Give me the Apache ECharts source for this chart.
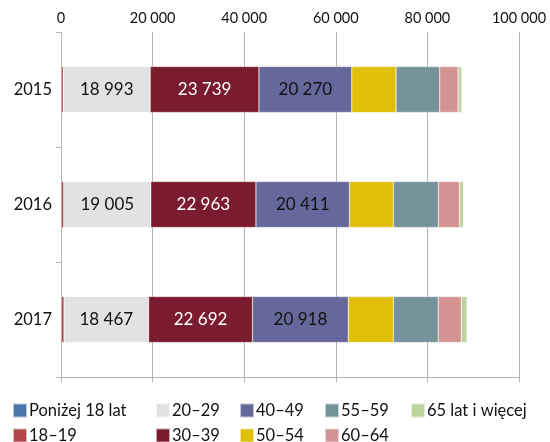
<!DOCTYPE html>
<html>
<head>
<meta charset="utf-8">
<script src="https://cdn.jsdelivr.net/npm/echarts@6/dist/echarts.min.js"></script>
<style>html,body{margin:0;padding:0;background:#fff}#c{width:550px;height:442px}</style>
</head>
<body>
<div id="c"></div>
<script>
const years = ['2015', '2016', '2017'];
const seriesNames = ['Poniżej 18 lat', '18–19', '20–29', '30–39', '40–49', '50–54', '55–59', '60–64', '65 lat i więcej'];
const under18 = [40, 50, 60];
const age18_19 = [450, 550, 600];
const age20_29 = [18993, 19005, 18467];
const age30_39 = [23739, 22963, 22692];
const age40_49 = [20270, 20411, 20918];
const age50_54 = [9670, 9600, 9850];
const age55_59 = [9540, 9830, 9780];
const age60_64 = [4000, 4590, 5030];
const age65plus = [800, 870, 1240];
const axisTicks = [0, 20000, 40000, 60000, 80000, 100000];

const values = [under18, age18_19, age20_29, age30_39, age40_49, age50_54, age55_59, age60_64, age65plus];
const colors = ['#4A76AA', '#B0474A', '#E2E2E2', '#7A1C2D', '#66679B', '#E0BF08', '#76929B', '#D49393', '#BDD39D'];
const labelled = {2: '#111', 3: '#fff', 4: '#111'};
const fmt = v => String(v).replace(/\B(?=(\d{3})+(?!\d))/g, ' ');
const FONT = 'Lato';

const chart = echarts.init(document.getElementById('c'));
const series = seriesNames.map((name, i) => ({
  name: name,
  type: 'bar',
  stack: 'total',
  barWidth: '40%',
  xAxisIndex: 0,
  data: values[i],
  itemStyle: {color: colors[i], borderColor: 'rgba(255,255,255,0.6)', borderWidth: 0.5},
  label: labelled[i] ? {
    show: true, position: 'inside', color: labelled[i], fontFamily: FONT, fontSize: 17,
    formatter: p => fmt(p.value)
  } : {show: false},
  emphasis: {disabled: true}
}));

// legend slots: column x, row (0 top, 1 bottom) — Excel fills column-wise
const colX = [12, 155, 239, 324, 410];
const rowY = [402, 427];
const legends = seriesNames.map((name, i) => ({
  left: colX[Math.floor(i / 2)], top: rowY[i % 2], orient: 'horizontal', padding: 0,
  itemWidth: 14, itemHeight: 14, icon: 'rect', data: [name],
  textStyle: {fontFamily: FONT, fontSize: 16.5, color: '#111', padding: [0, 0, 0, -3]},
  selectedMode: false
}));

chart.setOption({
  animation: false,
  color: colors,
  grid: {left: 61, right: 31, top: 32, bottom: 65},
  legend: legends,
  xAxis: [{
    type: 'value', position: 'top', min: axisTicks[0], max: axisTicks[axisTicks.length - 1],
    interval: axisTicks[1] - axisTicks[0],
    axisLine: {show: false}, axisTick: {show: false},
    axisLabel: {margin: 6, fontFamily: FONT, fontSize: 14.5, color: '#111', formatter: v => fmt(v)},
    splitLine: {show: true, lineStyle: {color: '#b3b3b3', width: 1}}
  }, {
    type: 'value', position: 'bottom', min: axisTicks[0], max: axisTicks[axisTicks.length - 1],
    interval: axisTicks[1] - axisTicks[0],
    axisLine: {show: true, lineStyle: {color: '#b3b3b3', width: 1}},
    axisTick: {show: true, length: 5, lineStyle: {color: '#b3b3b3'}},
    axisLabel: {show: false}, splitLine: {show: false}
  }],
  yAxis: {
    type: 'category', data: years, inverse: true,
    axisLine: {show: true, lineStyle: {color: '#b3b3b3', width: 1}},
    axisTick: {show: true, length: 5, lineStyle: {color: '#b3b3b3'}},
    axisLabel: {margin: 9, fontFamily: FONT, fontSize: 16.5, color: '#111'}
  },
  series: series
});
</script>
</body>
</html>
